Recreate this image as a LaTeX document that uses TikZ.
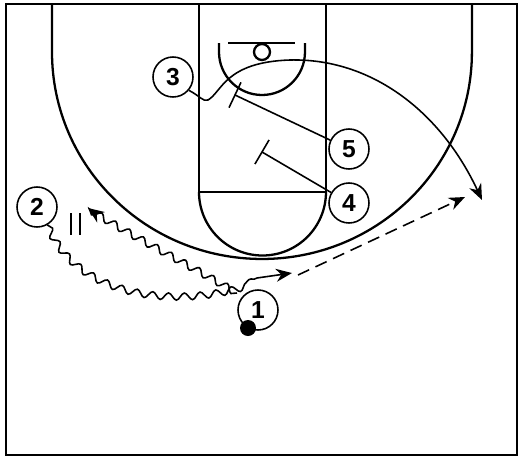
\documentclass[tikz,border=0pt]{standalone}
\usepackage{fontspec}
\setmainfont{Liberation Sans}
\usepackage{tikz}
\usetikzlibrary{arrows.meta,calc,decorations.pathmorphing}

\begin{document}
\begin{tikzpicture}[x=0.02cm,y=-0.02cm,
  court/.style={line width=1.3pt},
  player/.style={draw,circle,line width=0.9pt,minimum size=0.8cm,inner sep=0pt,font=\fontsize{14}{16}\selectfont\bfseries},
  move/.style={line width=0.9pt,-{Stealth[length=3.2mm,width=2.6mm]}},
  dribble/.style={decorate,decoration={snake,amplitude=0.07cm,segment length=0.32cm}},
  screen/.style={line width=0.9pt}]
\useasboundingbox (0,0) rectangle (525,458);
% Court
\draw[court] (6,4) rectangle (517,455);
\draw[court] (52,4) -- (52,52) arc[start angle=180,end angle=360,x radius=4.2cm,y radius=4.14cm] -- (472,4);
\draw[court] (199,4) -- (199,192) -- (326,192) -- (326,4);
\draw[court] (199,192) arc[start angle=180,end angle=360,radius=1.27cm];
\draw[court] (228,43) -- (295,43);
\draw[court] (262,52) circle[radius=0.16cm];
\draw[court] (219,43) -- (219,52) arc[start angle=180,end angle=360,radius=0.86cm] -- (305,43);
% Players
\node[player] (p1) at (258,310) {1};
\node[player] (p2) at (37,207) {2};
\node[player] (p3) at (173,77) {3};
\node[player] (p4) at (349,203) {4};
\node[player] (p5) at (349,149) {5};
% Ball
\fill (248,328) circle[radius=0.16cm];
% Screens
\coordinate (s5) at (235,95);
\coordinate (s4) at (262,152);
\draw[screen] (p5) -- (s5);
\draw[screen] ($(s5)!0.28cm!90:(p5)$) -- ($(s5)!0.28cm!-90:(p5)$);
\draw[screen] (p4) -- (s4);
\draw[screen] ($(s4)!0.28cm!90:(p4)$) -- ($(s4)!0.28cm!-90:(p4)$);
% Hand-off
\draw[screen] (71,213) -- (71,235);
\draw[screen] (80,213) -- (80,235);
% Cut of 3
\coordinate (c3) at (482,200);
\draw[move] (p3.-40) .. controls (200,96) and (203,102) .. (208,100) .. controls (222,92) and (225,62) .. (290,60) .. controls (370,58) and (440,110) .. (c3);
% Dribbles
\coordinate (d1) at (88,208);
\coordinate (d2) at (292,273);
\draw[move] decorate[dribble]{(237,293) .. controls (180,260) and (120,230) .. (d1)};
\draw[move] decorate[dribble]{(p2.-60) .. controls (80,300) and (190,305) .. (257,278)} -- (d2);
% Pass
\coordinate (a1) at (298,275);
\coordinate (a2) at (465,197);
\draw[move,dashed,dash pattern=on 7pt off 4pt] (a1) -- (a2);
\end{tikzpicture}
\end{document}
